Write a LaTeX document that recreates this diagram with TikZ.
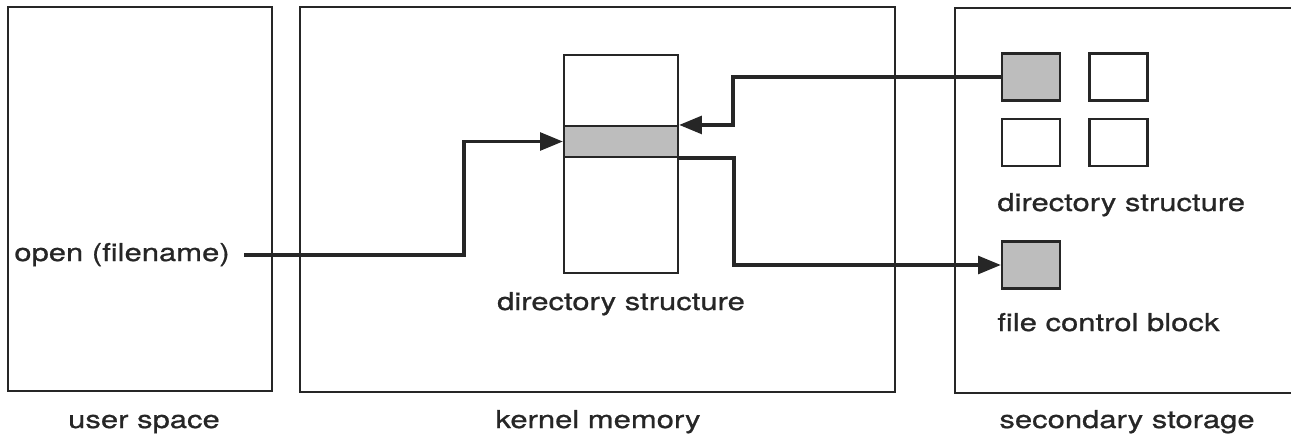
\documentclass[tikz,border=0pt]{standalone}
\usepackage{fontspec}
\setmainfont[FakeStretch=1.26, FakeBold=0.8]{TeX Gyre Heros}
\usetikzlibrary{arrows.meta}
\definecolor{cInk}{HTML}{262626}
\definecolor{cFcb}{HTML}{BDBDBD}
\tikzset{
  area/.style={draw=cInk, line width=1.2pt},
  col/.style={draw=cInk, line width=1.2pt, minimum width=2.28cm, minimum height=4.36cm, inner sep=0pt},
  dirband/.style={draw=cInk, line width=1.2pt, fill=cFcb, minimum width=2.28cm, minimum height=0.62cm, inner sep=0pt},
  blk/.style={draw=cInk, line width=1.2pt, minimum width=1.16cm, minimum height=0.94cm, inner sep=0pt},
  blkfill/.style={blk, fill=cFcb},
  lbl/.style={text=cInk, font=\fontsize{14}{16}\selectfont, inner sep=0pt},
  flow/.style={draw=cInk, line width=2.2pt, -{Triangle[length=13pt, width=10pt]}},
}

\begin{document}
\begin{tikzpicture}[x=0.02cm, y=-0.02cm]
\useasboundingbox (0,0) rectangle (1291,439);
\draw[area] (8,7) rectangle (272,391);
\draw[area] (300,7) rectangle (895,392);
\draw[area] (1300,8) -- (955,8) -- (955,393) -- (1300,393);
\node[lbl, anchor=base] (user) at (144,428) {user space};
\node[lbl, anchor=base] (kernel) at (598,428) {kernel memory};
\node[lbl, anchor=base] (storage) at (1127,428) {secondary storage};
\node[col] (dircol) at (621,164) {};
\node[dirband] (band) at (621,141.5) {};
\node[lbl, anchor=base] (dirlbl) at (621,310) {directory structure};
\node[lbl, anchor=base east, inner xsep=0.28cm] (open) at (244,261) {open (filename)};
\node[blkfill] (dirblk) at (1031,77) {};
\node[blk] (dirb) at (1118.5,77) {};
\node[blk] (dirc) at (1031,142.5) {};
\node[blk] (dird) at (1118.5,142.5) {};
\node[lbl, anchor=base west] (sdirlbl) at (997,211) {directory structure};
\node[blkfill] (fcb) at (1031,265) {};
\node[lbl, anchor=base west] (fcblbl) at (997,331) {file control block};
\draw[flow] (open.east) -- ++(220,0) |- (band.west);
\draw[flow] (dirblk.west) -- ++(-268,0) |- (band.north east);
\draw[flow] (band.south east) -- ++(55,0) |- (fcb.west);
\end{tikzpicture}
\end{document}
